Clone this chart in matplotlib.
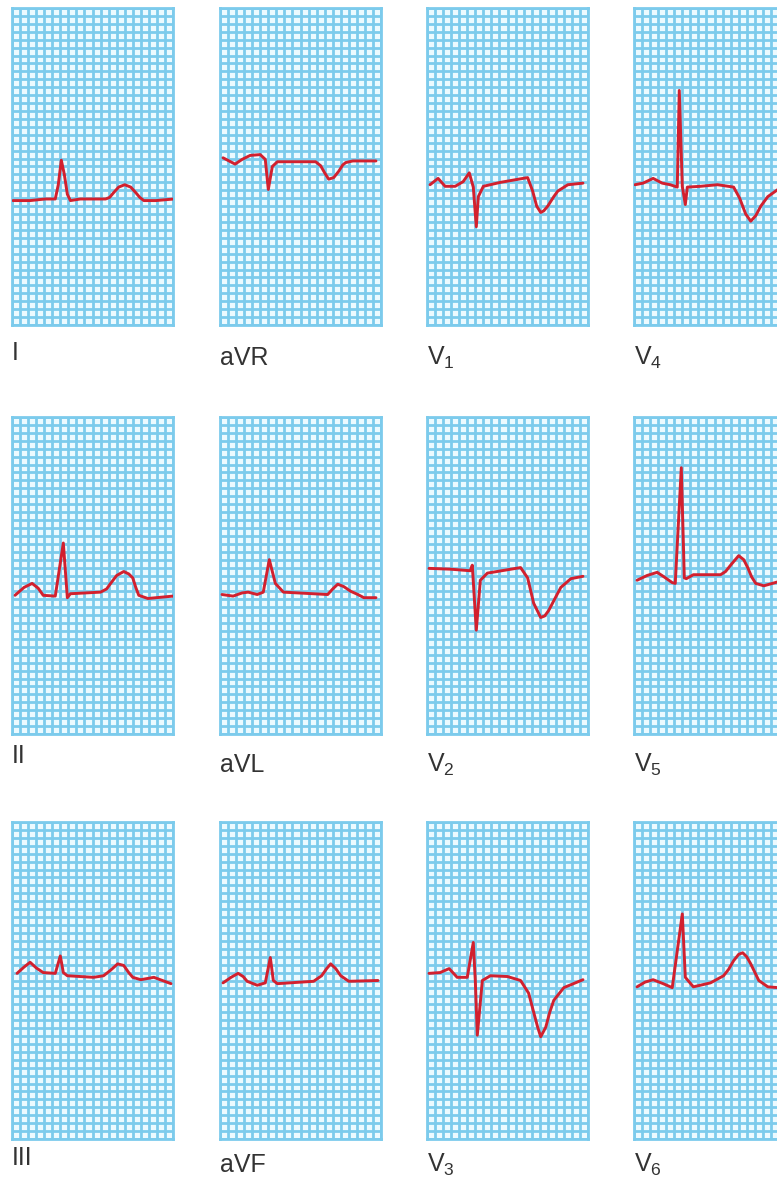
import numpy as np
import matplotlib
matplotlib.use('Agg')
import matplotlib.pyplot as plt

plt.rcParams['font.family'] = ['Liberation Sans', 'DejaVu Sans']
plt.rcParams['mathtext.default'] = 'regular'

# 12-lead ECG traces: time in ms, amplitude in mV (0 = middle of the strip)
leads = ['I', 'aVR', 'V1', 'V4',
         'II', 'aVL', 'V2', 'V5',
         'III', 'aVF', 'V3', 'V6']

labels = ['I', 'aVR', r'$V_1$', r'$V_4$',
          'II', 'aVL', r'$V_2$', r'$V_5$',
          'III', 'aVF', r'$V_3$', r'$V_6$']

t_I = [5, 90, 165, 215, 230, 245, 260, 275, 290, 340, 465, 485, 505, 530, 560, 590, 615, 635, 655, 715, 805]
v_I = [-0.43, -0.43, -0.41, -0.41, -0.23, 0.08, -0.10, -0.35, -0.43, -0.41, -0.41, -0.39, -0.33, -0.26, -0.23, -0.26, -0.33, -0.39, -0.43, -0.43, -0.41]

t_aVR = [15, 45, 75, 110, 150, 200, 225, 240, 260, 285, 475, 500, 520, 540, 565, 590, 610, 625, 660, 775]
v_aVR = [0.11, 0.07, 0.03, 0.09, 0.14, 0.15, 0.09, -0.29, 0.0, 0.06, 0.06, 0.01, -0.08, -0.16, -0.14, -0.06, 0.02, 0.05, 0.07, 0.07]

t_V1 = [15, 55, 90, 140, 180, 210, 230, 245, 255, 280, 365, 500, 525, 545, 565, 580, 600, 630, 650, 700, 775]
v_V1 = [-0.23, -0.15, -0.25, -0.25, -0.19, -0.08, -0.26, -0.76, -0.38, -0.25, -0.20, -0.14, -0.31, -0.50, -0.58, -0.56, -0.50, -0.38, -0.31, -0.23, -0.21]

t_V4 = [5, 45, 95, 140, 180, 215, 225, 240, 255, 265, 330, 415, 495, 525, 555, 580, 605, 630, 665, 715, 805]
v_V4 = [-0.23, -0.21, -0.15, -0.21, -0.23, -0.26, 0.96, -0.25, -0.48, -0.26, -0.25, -0.23, -0.26, -0.40, -0.60, -0.69, -0.62, -0.50, -0.38, -0.29, -0.25]

t_II = [15, 60, 100, 130, 155, 215, 255, 275, 290, 440, 470, 490, 520, 555, 580, 600, 615, 630, 675, 800]
v_II = [-0.25, -0.15, -0.10, -0.16, -0.25, -0.26, 0.41, -0.28, -0.23, -0.21, -0.17, -0.10, 0.0, 0.05, 0.02, -0.03, -0.15, -0.25, -0.29, -0.26]

t_aVL = [10, 65, 110, 140, 185, 215, 245, 275, 315, 535, 560, 585, 615, 650, 685, 715, 775]
v_aVL = [-0.24, -0.26, -0.22, -0.21, -0.24, -0.21, 0.20, -0.10, -0.21, -0.24, -0.17, -0.11, -0.14, -0.20, -0.24, -0.28, -0.28]

t_V2 = [10, 115, 215, 225, 245, 265, 300, 465, 500, 530, 565, 585, 605, 640, 665, 715, 775]
v_V2 = [0.09, 0.08, 0.06, 0.13, -0.69, -0.06, 0.03, 0.10, -0.03, -0.35, -0.53, -0.51, -0.44, -0.27, -0.15, -0.04, -0.01]

t_V5 = [15, 65, 115, 145, 190, 205, 235, 250, 260, 295, 430, 455, 480, 520, 545, 565, 585, 605, 645, 715, 805]
v_V5 = [-0.06, 0.0, 0.04, -0.01, -0.09, -0.10, 1.36, -0.03, -0.04, 0.01, 0.01, 0.05, 0.13, 0.25, 0.20, 0.10, -0.02, -0.10, -0.13, -0.08, -0.06]

t_III = [25, 60, 90, 120, 155, 215, 240, 255, 275, 405, 455, 490, 525, 555, 580, 600, 640, 705, 790]
v_III = [0.09, 0.17, 0.23, 0.16, 0.10, 0.09, 0.31, 0.10, 0.06, 0.04, 0.06, 0.13, 0.21, 0.19, 0.10, 0.04, 0.01, 0.04, -0.04]

t_aVF = [15, 55, 90, 115, 135, 185, 225, 250, 265, 285, 465, 505, 530, 550, 575, 600, 640, 785]
v_aVF = [-0.03, 0.04, 0.09, 0.05, -0.01, -0.06, -0.03, 0.29, 0.0, -0.04, -0.01, 0.06, 0.15, 0.21, 0.15, 0.06, -0.01, 0.0]

t_V3 = [10, 65, 110, 150, 200, 230, 240, 250, 275, 315, 400, 465, 505, 530, 550, 565, 590, 610, 630, 680, 775]
v_V3 = [0.09, 0.10, 0.15, 0.04, 0.04, 0.48, 0.0, -0.69, 0.0, 0.06, 0.05, 0.0, -0.16, -0.40, -0.59, -0.71, -0.59, -0.40, -0.25, -0.09, 0.01]

t_V6 = [15, 55, 95, 145, 190, 240, 255, 295, 380, 445, 470, 495, 520, 540, 560, 580, 620, 665, 715, 805]
v_V6 = [-0.08, -0.02, 0.01, -0.04, -0.09, 0.84, 0.04, -0.08, -0.03, 0.06, 0.14, 0.25, 0.33, 0.35, 0.30, 0.21, 0.0, -0.08, -0.09, -0.09]

traces = {
    'I': (t_I, v_I), 'aVR': (t_aVR, v_aVR), 'V1': (t_V1, v_V1), 'V4': (t_V4, v_V4),
    'II': (t_II, v_II), 'aVL': (t_aVL, v_aVL), 'V2': (t_V2, v_V2), 'V5': (t_V5, v_V5),
    'III': (t_III, v_III), 'aVF': (t_aVF, v_aVF), 'V3': (t_V3, v_V3), 'V6': (t_V6, v_V6),
}

W, H = 777, 1187
fig = plt.figure(figsize=(W / 100, H / 100), dpi=100)
fig.patch.set_facecolor('white')

col_left = [12, 220, 427, 634]
row_top = [8, 417, 822]
pw, ph = 161, 317
label_base = [365, 772, 1172]
first_col_shift = [5, 9, 7]

grid_col = '#7ccbec'
paper_col = '#ecfaff'
trace_col = '#d2202e'

for i, lead in enumerate(leads):
    r, c = divmod(i, 4)
    x0, y0 = col_left[c], row_top[r]
    ax = fig.add_axes([x0 / W, 1 - (y0 + ph) / H, pw / W, ph / H])
    ax.set_facecolor(paper_col)
    ax.set_xlim(0, 800)
    ax.set_ylim(-2, 2)
    ax.set_xticks(np.arange(0, 801, 40))
    ax.set_yticks(np.arange(-2, 2.001, 0.1))
    ax.grid(True, color=grid_col, lw=2.0)
    ax.tick_params(length=0, labelbottom=False, labelleft=False)
    for s in ax.spines.values():
        s.set_color(grid_col)
        s.set_linewidth(2.0)
    t, v = traces[lead]
    ax.plot(t, v, color=trace_col, lw=2.1, solid_joinstyle='round',
            solid_capstyle='round', zorder=3)

    base = label_base[r] - (first_col_shift[r] if c == 0 else 0)
    fig.text(x0 / W, 1 - base / H, labels[i], fontsize=18, color='#333333',
             ha='left', va='baseline')

fig.savefig('out.png', dpi=100)
